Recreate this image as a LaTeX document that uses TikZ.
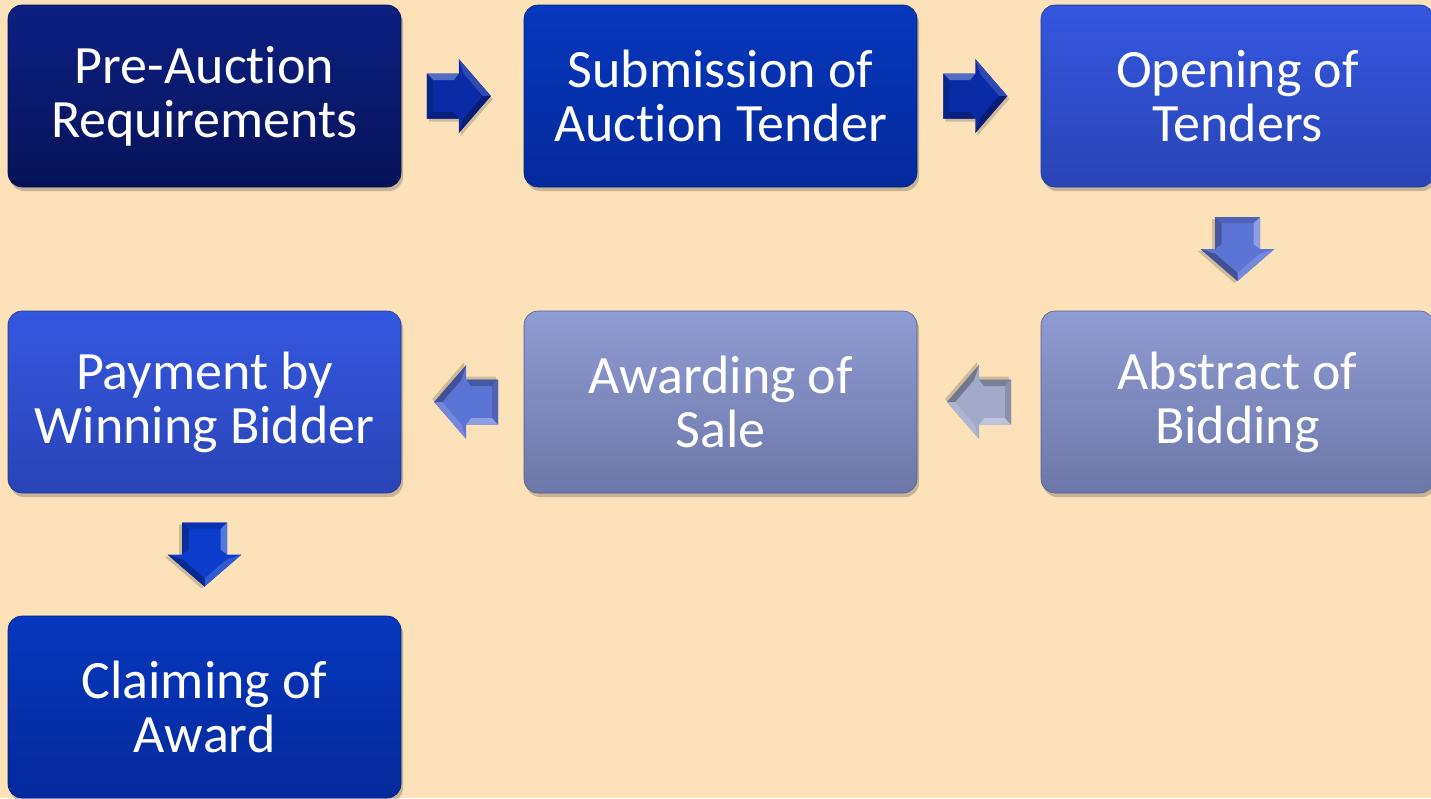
\documentclass[tikz,border=0pt]{standalone}
\usepackage{fontspec}
\setmainfont{Carlito}[Ligatures={NoCommon,NoContextual}]
\usetikzlibrary{calc,shadows}
\definecolor{bg}{HTML}{FDE2B9}
\definecolor{cAtop}{HTML}{0D2082}
\definecolor{cAbot}{HTML}{061358}
\definecolor{cBtop}{HTML}{0737BD}
\definecolor{cBbot}{HTML}{042A9C}
\definecolor{cCtop}{HTML}{3457DF}
\definecolor{cCbot}{HTML}{2944B6}
\definecolor{cDtop}{HTML}{8F9BD3}
\definecolor{cDbot}{HTML}{6D77A9}
\definecolor{arA}{HTML}{0A2BA6}
\definecolor{arB}{HTML}{5C74D6}
\definecolor{arC}{HTML}{A2A9C9}
\definecolor{arD}{HTML}{0B3CCB}
\tikzset{
  stepbox/.style={rectangle, rounded corners=14pt, minimum width=393pt, minimum height=182pt,
    inner sep=0pt, outer sep=0pt, align=center, text=white,
    font=\fontsize{54}{54}\selectfont,
    drop shadow={shadow xshift=2pt, shadow yshift=-4pt, opacity=0.3, fill=black!70}},
  boxA/.style={stepbox, top color=cAtop, bottom color=cAbot, draw=cAbot!80!black, line width=0.6pt},
  boxB/.style={stepbox, top color=cBtop, bottom color=cBbot, draw=cBbot!80!black, line width=0.6pt},
  boxC/.style={stepbox, top color=cCtop, bottom color=cCbot, draw=cCbot!80!black, line width=0.6pt},
  boxD/.style={stepbox, top color=cDtop, bottom color=cDbot, draw=cDbot!80!black, line width=0.6pt},
  pics/barrow/.style={code={
    \fill[black, opacity=0.18] (-30,-19.5) -- (2,-19.5) -- (2,-34) -- (34,3) -- (2,40) -- (2,25.5) -- (-30,25.5) -- cycle;
    \fill[#1] (-32,-22.5) -- (0,-22.5) -- (0,-37) -- (32,0) -- (0,37) -- (0,22.5) -- (-32,22.5) -- cycle;
    \fill[#1!70!white] (-32,-22.5) -- (0,-22.5) -- (-5,-16) -- (-26,-16) -- cycle;
    \fill[#1!85!white] (0,-37) -- (32,0) -- (24,0) -- (5,-22) -- cycle;
    \fill[#1!75!black] (-32,22.5) -- (0,22.5) -- (-5,16) -- (-26,16) -- cycle;
    \fill[#1!70!black] (0,37) -- (32,0) -- (24,0) -- (5,22) -- cycle;
    \fill[#1!85!black] (-32,-22.5) -- (-26,-16) -- (-26,16) -- (-32,22.5) -- cycle;
  }}
}
\begin{document}
\begin{tikzpicture}[x=1pt,y=-1pt]
\useasboundingbox[fill=bg] (0,0) rectangle (1431,798);
\node[boxA] (pre) at (204.5,96) {Pre-Auction\\Requirements};
\node[boxB] (sub) at (720.5,96) {Submission of\\Auction Tender};
\node[boxC] (open) at (1237.5,96) {Opening of\\Tenders};
\node[boxD] (abs) at (1237.5,402) {Abstract of\\Bidding};
\node[boxD] (awd) at (720.5,402) {Awarding of\\Sale};
\node[boxC] (pay) at (204.5,402) {Payment by\\Winning Bidder};
\node[boxB] (clm) at (204.5,707) {Claiming of\\Award};
\pic at ($(pre.east)!0.47!(sub.west)$) {barrow=arA};
\pic at ($(sub.east)!0.47!(open.west)$) {barrow=arA};
\pic[rotate=-90] at ($(open.south)!0.5!(abs.north)$) {barrow=arB};
\pic[rotate=180] at ($(abs.west)!0.5!(awd.east)$) {barrow=arC};
\pic[rotate=180] at ($(awd.west)!0.47!(pay.east)$) {barrow=arB};
\pic[rotate=-90] at ($(pay.south)!0.5!(clm.north)$) {barrow=arD};
\end{tikzpicture}
\end{document}
